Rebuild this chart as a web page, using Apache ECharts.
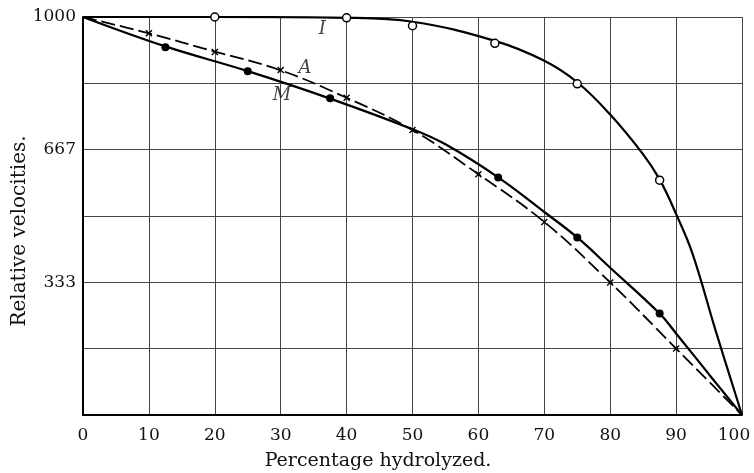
<!DOCTYPE html>
<html>
<head>
<meta charset="utf-8">
<script src="https://cdn.jsdelivr.net/npm/echarts@6/dist/echarts.min.js"></script>
<style>html,body{margin:0;padding:0;background:#fff;}#c{width:754px;height:473px;}</style>
</head>
<body>
<div id="c"></div>
<script>
// X axis ticks
const xTicks = [0,10,20,30,40,50,60,70,80,90,100];
// Y labels shown
const yLabels = [333, 667, 1000];

// Curve I (open circles)
const I_curveX = [0,20,40,50,62.5,70,75,80,85,87.5,90,92.5,96,100];
const I_curveY = [1000,1000,998,988,940,890,836,755,655,592,505,405,212,0];
const I_ptsX = [20,40,50,62.5,75,87.5];
const I_ptsY = [1000,998,978,934,832,590];

// Curve M (filled dots)
const M_curveX = [0,12.5,25,37.5,50,55,63,70,75,80,87.5,90,95,100];
const M_curveY = [1000,926,864,795,718,680,597,510,446,370,255,205,102,0];
const M_ptsX = [12.5,25,37.5,63,75,87.5];
const M_ptsY = [924,864,796,597,446,255];

// Curve A (crosses, dashed)
const A_curveX = [0,10,20,30,40,50,60,70,80,90,100];
const A_curveY = [1000,959,913,866,797,716,605,485,333,167,0];
const A_ptsX = [10,20,30,40,50,60,70,80,90];
const A_ptsY = [959,912,867,797,716,605,485,333,167];

// Curve name labels (data coords)
const labelNames = ['I','A','M'];
const labelX = [36.3,33.7,30.2];
const labelY = [970,872,802];

const zip = (xs, ys) => xs.map((x,i)=>[x, ys[i]]);
const SERIF = "'DejaVu Serif', 'Liberation Serif', serif";

const chart = echarts.init(document.getElementById('c'), null, {renderer:'canvas'});
chart.setOption({
  backgroundColor:'#fff',
  animation:false,
  grid:{left:83,right:12,top:17,bottom:58,containLabel:false},
  xAxis:{
    type:'value', min:0, max:100, interval:10,
    axisLine:{show:true,onZero:false,lineStyle:{color:'#000',width:2}},
    axisTick:{show:false},
    splitLine:{show:true,lineStyle:{color:'#444',width:1}},
    axisLabel:{
      margin:12, fontFamily:SERIF, fontSize:17, color:'#111',
      formatter:(v)=> v===100 ? '{r|100}' : (xTicks.includes(v)? String(v):''),
      rich:{r:{fontFamily:SERIF,fontSize:17,color:'#111',padding:[0,16,0,0]}}
    }
  },
  yAxis:{
    type:'value', min:0, max:1000, interval:1000/6,
    axisLine:{show:true,onZero:false,lineStyle:{color:'#000',width:2}},
    axisTick:{show:false},
    splitLine:{show:true,lineStyle:{color:'#444',width:1}},
    axisLabel:{
      margin:7, fontFamily:SERIF, fontSize:17, color:'#111',
      formatter:(v)=>{const r=Math.round(v); return yLabels.includes(r)?String(r):'';}
    }
  },
  graphic:[
    {type:'text', x:20, y:231, rotation:Math.PI/2,
     style:{text:'Relative velocities.', font:"20px "+SERIF, fill:'#111', textAlign:'center', textVerticalAlign:'middle'}},
    {type:'text', x:378, y:461,
     style:{text:'Percentage hydrolyzed.', font:"19px "+SERIF, fill:'#111', textAlign:'center', textVerticalAlign:'middle'}}
  ],
  series:[
    {name:'I', type:'line', data:zip(I_curveX,I_curveY), showSymbol:false, symbol:'none', smooth:0.4,
     lineStyle:{color:'#000',width:2.2}, z:3},
    {name:'M', type:'line', data:zip(M_curveX,M_curveY), showSymbol:false, symbol:'none', smooth:0.4,
     lineStyle:{color:'#000',width:2.3}, z:3},
    {name:'A', type:'line', data:zip(A_curveX,A_curveY), showSymbol:false, symbol:'none', smooth:0.4,
     lineStyle:{color:'#000',width:1.8,type:[14,5]}, z:3},
    {name:'I pts', type:'scatter', data:zip(I_ptsX,I_ptsY), symbol:'circle', symbolSize:8,
     itemStyle:{color:'#fff',borderColor:'#000',borderWidth:1.5,opacity:1}, z:5},
    {name:'M pts', type:'scatter', data:zip(M_ptsX,M_ptsY), symbol:'circle', symbolSize:8,
     itemStyle:{color:'#000',opacity:1}, z:5},
    {name:'A pts', type:'scatter', data:zip(A_ptsX,A_ptsY), symbol:'path://M0 0L10 10M10 0L0 10', symbolSize:6,
     itemStyle:{color:'none',borderColor:'#000',borderWidth:1.4,opacity:1}, z:5},
    {name:'labels', type:'scatter', symbolSize:0,
     data:labelNames.map((n,i)=>({value:[labelX[i],labelY[i]], name:n})),
     label:{show:true, position:'inside', formatter:(p)=>p.name, fontFamily:SERIF, fontStyle:'italic', fontSize:18, color:'#111'},
     z:6}
  ]
});
</script>
</body>
</html>
